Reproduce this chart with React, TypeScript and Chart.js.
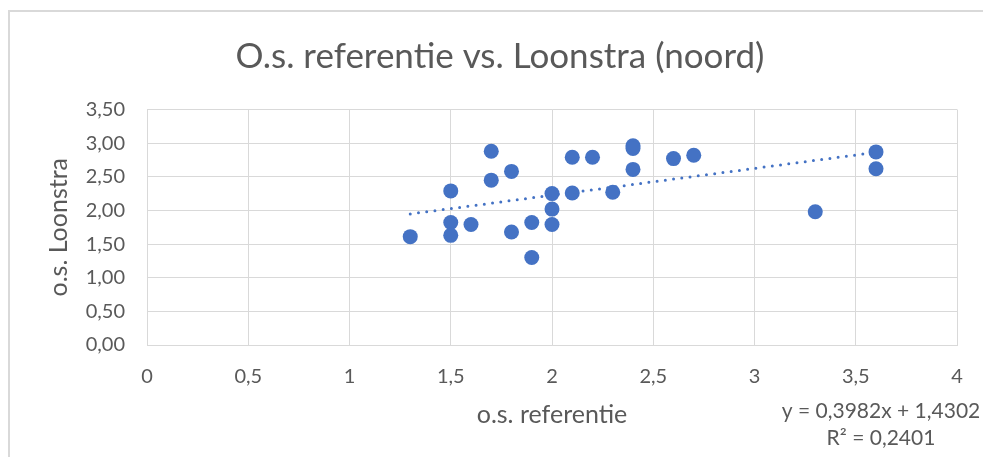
import React, { useEffect, useRef } from "react";
import { Chart, registerables } from "chart.js";

Chart.register(...registerables);

const TITLE = "O.s. referentie vs. Loonstra (noord)";
const X_TITLE = "o.s. referentie";
const Y_TITLE = "o.s. Loonstra";

// o.s. referentie values
const xValues = [
  1.3, 1.5, 1.5, 1.5, 1.6, 1.7, 1.7, 1.8, 1.8, 1.9, 1.9, 2.0, 2.0, 2.0, 2.1, 2.1,
  2.2, 2.3, 2.4, 2.4, 2.4, 2.6, 2.7, 3.3, 3.6, 3.6,
];
// o.s. Loonstra values
const yValues = [
  1.61, 2.29, 1.82, 1.63, 1.79, 2.88, 2.45, 2.58, 1.68, 1.82, 1.3, 2.25, 2.02, 1.79,
  2.79, 2.26, 2.79, 2.27, 2.96, 2.92, 2.61, 2.77, 2.82, 1.98, 2.87, 2.62,
];

// Linear trendline as reported in the chart
const TREND_SLOPE = 0.3982;
const TREND_INTERCEPT = 1.4302;
const R_SQUARED = 0.2401;

const xTickMin = 0;
const xTickMax = 4;
const xTickStep = 0.5;
const yTickMin = 0;
const yTickMax = 3.5;
const yTickStep = 0.5;

const FONT = "Lato, 'Open Sans', sans-serif";
const TEXT = "#595959";
const GRID = "#d9d9d9";
const BLUE = "#4472C4";

const comma = (s: string) => s.replace(".", ",");

export default function App() {
  const ref = useRef<HTMLCanvasElement | null>(null);

  useEffect(() => {
    if (!ref.current) return;
    const points = xValues.map((x, i) => ({ x, y: yValues[i] }));
    const xMin = Math.min(...xValues);
    const xMax = Math.max(...xValues);
    const trend = [
      { x: xMin, y: TREND_SLOPE * xMin + TREND_INTERCEPT },
      { x: xMax, y: TREND_SLOPE * xMax + TREND_INTERCEPT },
    ];

    const frame = {
      id: "frame",
      afterLayout(chart: any) {
        const t = chart.titleBlock;
        if (t) {
          t.left = 17;
          t.right = chart.width;
          t.width = t.right - t.left;
        }
      },
      beforeDraw(chart: any) {
        const ctx = chart.ctx;
        ctx.save();
        ctx.fillStyle = "#ffffff";
        ctx.fillRect(0, 0, chart.width, chart.height);
        ctx.strokeStyle = GRID;
        ctx.lineWidth = 2;
        ctx.strokeRect(9, 11, 1200, 800);
        ctx.restore();
      },
      afterDraw(chart: any) {
        const ctx = chart.ctx;
        const a = chart.chartArea;
        ctx.save();
        ctx.fillStyle = TEXT;
        ctx.font = `21px ${FONT}`;
        ctx.textAlign = "center";
        ctx.textBaseline = "middle";
        const cx = a.right - 76;
        ctx.fillText(
          `y = ${comma(TREND_SLOPE.toFixed(4))}x + ${comma(TREND_INTERCEPT.toFixed(4))}`,
          cx,
          a.bottom + 66
        );
        ctx.fillText(`R² = ${comma(R_SQUARED.toFixed(4))}`, cx, a.bottom + 93);
        ctx.restore();
      },
    };

    const chart = new Chart(ref.current, {
      type: "scatter",
      data: {
        datasets: [
          {
            type: "line",
            data: trend,
            borderColor: BLUE,
            borderWidth: 3,
            borderDash: [0, 8.3],
            borderCapStyle: "round",
            pointRadius: 0,
            fill: false,
            order: 0,
          } as any,
          {
            data: points,
            backgroundColor: BLUE,
            borderColor: BLUE,
            borderWidth: 0,
            pointRadius: 7.5,
            pointHoverRadius: 7.5,
            order: 1,
          },
        ],
      },
      options: {
        animation: false,
        responsive: false,
        maintainAspectRatio: false,
        events: [],
        layout: { padding: { left: 0, right: 26, top: 0, bottom: 0 } },
        plugins: {
          legend: { display: false },
          tooltip: { enabled: false },
          title: {
            display: true,
            text: TITLE,
            color: TEXT,
            font: { family: FONT, size: 35, weight: "normal", lineHeight: 1.2 },
            padding: { top: 36, bottom: 31.5 },
          },
        },
        scales: {
          x: {
            type: "linear",
            min: xTickMin,
            max: xTickMax,
            afterFit: (s: any) => {
              s.height = 112;
            },
            ticks: {
              stepSize: xTickStep,
              color: TEXT,
              padding: 20,
              font: { family: FONT, size: 20 },
              callback: (v: any) => comma(String(Number(v))),
            },
            grid: { color: GRID, lineWidth: 1, drawTicks: false },
            border: { color: GRID, width: 1 },
            title: {
              display: true,
              text: X_TITLE,
              color: TEXT,
              font: { family: FONT, size: 25 },
              padding: { top: 0, bottom: 27 },
            },
          },
          y: {
            type: "linear",
            min: yTickMin,
            max: yTickMax,
            afterFit: (s: any) => {
              s.width = 147;
            },
            ticks: {
              stepSize: yTickStep,
              color: TEXT,
              padding: 22,
              font: { family: FONT, size: 20 },
              callback: (v: any) => comma(Number(v).toFixed(2)),
            },
            grid: { color: GRID, lineWidth: 1, drawTicks: false },
            border: { color: GRID, width: 1 },
            title: {
              display: true,
              text: Y_TITLE,
              color: TEXT,
              font: { family: FONT, size: 25 },
              padding: { top: 44, bottom: 0 },
            },
          },
        },
      },
      plugins: [frame],
    } as any);
    return () => chart.destroy();
  }, []);

  return (
    <div style={{ position: "fixed", left: 0, top: 0, width: 983, height: 457, background: "#fff" }}>
      <canvas ref={ref} width={983} height={457} style={{ width: 983, height: 457, display: "block" }} />
    </div>
  );
}
